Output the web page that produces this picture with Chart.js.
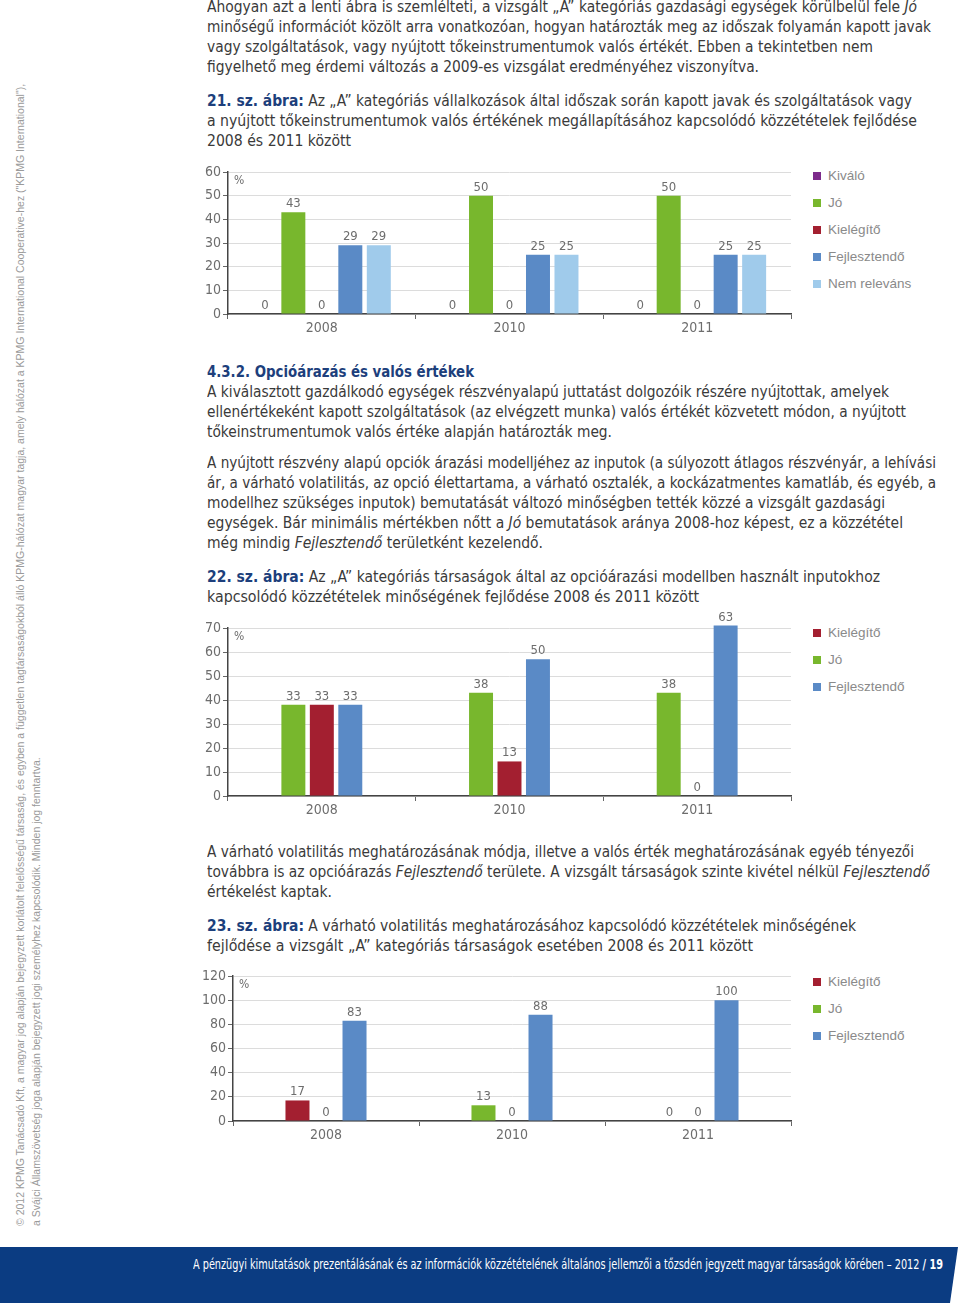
<!DOCTYPE html>
<html><head><meta charset="utf-8">
<script src="https://cdn.jsdelivr.net/npm/chart.js@4.4.1/dist/chart.umd.min.js"></script>
<style>
html,body{margin:0;padding:0;background:#fff;}
body{width:960px;height:1303px;position:relative;overflow:hidden;font-family:"DejaVu Sans Condensed","DejaVu Sans",sans-serif;}
.t{position:absolute;left:207px;font-size:16px;line-height:20px;color:#3a3a3a;white-space:nowrap;}
.t div{height:20px;width:max-content;transform-origin:0 0;}
.cap b{color:#1d3f7c;}
.h{color:#1d3f7c;font-weight:bold;}
canvas{position:absolute;}
.lg{position:absolute;left:813px;font-family:"Liberation Sans","Arial",sans-serif;font-size:13.5px;color:#8a8a8a;}
.lg div{position:absolute;left:0;white-space:nowrap;height:16px;line-height:16px;}
.lg span{display:inline-block;width:8px;height:8px;margin-right:7px;vertical-align:0px;}
.side{position:absolute;left:12px;top:1226px;transform-origin:0 0;transform:rotate(-90deg);font-family:"Liberation Sans","Arial",sans-serif;font-size:10.5px;line-height:16px;color:#9a9a9a;white-space:nowrap;}
.foot{position:absolute;left:0;top:1247px;width:960px;height:56px;background:#0b3c82;clip-path:polygon(0 0,958px 0,950px 56px,0 56px);}
.foot div{position:absolute;left:193px;top:9px;color:#fff;font-size:14px;white-space:nowrap;width:max-content;transform-origin:0 0;}
</style></head>
<body>
<div class="t" style="top:-3px">
<div data-r="917">Ahogyan azt a lenti ábra is szemlélteti, a vizsgált „A” kategóriás gazdasági egységek körülbelül fele <i>Jó</i></div>
<div data-r="931">minőségű információt közölt arra vonatkozóan, hogyan határozták meg az időszak folyamán kapott javak</div>
<div data-r="873">vagy szolgáltatások, vagy nyújtott tőkeinstrumentumok valós értékét. Ebben a tekintetben nem</div>
<div data-r="759">figyelhető meg érdemi változás a 2009-es vizsgálat eredményéhez viszonyítva.</div>
</div>
<div class="t cap" style="top:91px">
<div data-r="912"><b>21. sz. ábra:</b> Az „A” kategóriás vállalkozások által időszak során kapott javak és szolgáltatások vagy</div>
<div data-r="917">a nyújtott tőkeinstrumentumok valós értékének megállapításához kapcsolódó közzétételek fejlődése</div>
<div data-r="351">2008 és 2011 között</div>
</div>
<div class="t" style="top:362px">
<div class="h" data-r="474">4.3.2. Opcióárazás és valós értékek</div>
<div data-r="889">A kiválasztott gazdálkodó egységek részvényalapú juttatást dolgozóik részére nyújtottak, amelyek</div>
<div data-r="906">ellenértékeként kapott szolgáltatások (az elvégzett munka) valós értékét közvetett módon, a nyújtott</div>
<div data-r="612">tőkeinstrumentumok valós értéke alapján határozták meg.</div>
</div>
<div class="t" style="top:453px">
<div data-r="936">A nyújtott részvény alapú opciók árazási modelljéhez az inputok (a súlyozott átlagos részvényár, a lehívási</div>
<div data-r="936">ár, a várható volatilitás, az opció élettartama, a várható osztalék, a kockázatmentes kamatláb, és egyéb, a</div>
<div data-r="885">modellhez szükséges inputok) bemutatását változó minőségben tették közzé a vizsgált gazdasági</div>
<div data-r="903">egységek. Bár minimális mértékben nőtt a <i>Jó</i> bemutatások aránya 2008-hoz képest, ez a közzététel</div>
<div data-r="543">még mindig <i>Fejlesztendő</i> területként kezelendő.</div>
</div>
<div class="t cap" style="top:567px">
<div data-r="880"><b>22. sz. ábra:</b> Az „A” kategóriás társaságok által az opcióárazási modellben használt inputokhoz</div>
<div data-r="699">kapcsolódó közzétételek minőségének fejlődése 2008 és 2011 között</div>
</div>
<div class="t" style="top:842px">
<div data-r="914">A várható volatilitás meghatározásának módja, illetve a valós érték meghatározásának egyéb tényezői</div>
<div data-r="930">továbbra is az opcióárazás <i>Fejlesztendő</i> területe. A vizsgált társaságok szinte kivétel nélkül <i>Fejlesztendő</i></div>
<div data-r="332">értékelést kaptak.</div>
</div>
<div class="t cap" style="top:916px">
<div data-r="856"><b>23. sz. ábra:</b> A várható volatilitás meghatározásához kapcsolódó közzétételek minőségének</div>
<div data-r="753">fejlődése a vizsgált „A” kategóriás társaságok esetében 2008 és 2011 között</div>
</div>

<canvas id="c21" width="600" height="180" style="left:200px;top:160px"></canvas>
<canvas id="c22" width="600" height="222" style="left:200px;top:600px"></canvas>
<canvas id="c23" width="600" height="183" style="left:200px;top:964px"></canvas>

<div class="lg" id="lg21" style="top:168px"></div>
<div class="lg" id="lg22" style="top:625px"></div>
<div class="lg" id="lg23" style="top:974px"></div>

<div class="side">© 2012 KPMG Tanácsadó Kft, a magyar jog alapján bejegyzett korlátolt felelősségű társaság, és egyben a független tagtársaságokból álló KPMG-hálózat magyar tagja, amely hálózat a KPMG International Cooperative-hez ("KPMG International"),<br>a Svájci Államszövetség joga alapján bejegyzett jogi személyhez kapcsolódik. Minden jog fenntartva.</div>

<div class="foot"><div id="foottext" data-w="750">A pénzügyi kimutatások prezentálásának és az információk közzétételének általános jellemzői a tőzsdén jegyzett magyar társaságok körében – 2012 <b>/ 19</b></div></div>

<script>
// ---- data ----
const years = ['2008', '2010', '2011'];

// Chart 21
const c21Kivalo = [0, 0, 0];
const c21Jo = [43, 50, 50];
const c21Kielegito = [0, 0, 0];
const c21Fejlesztendo = [29, 25, 25];
const c21NemRelevans = [29, 25, 25];
const c21Ticks = [0, 10, 20, 30, 40, 50, 60];

// Chart 22 (bar heights as drawn in the original, and the printed labels)
const c22Jo = [38, 43, 43];
const c22Kielegito = [38, 14.4, 0];
const c22Fejlesztendo = [38, 57, 71];
const c22JoLabels = [33, 38, 38];
const c22KielegitoLabels = [33, 13, 0];
const c22FejlesztendoLabels = [33, 50, 63];
const c22Ticks = [0, 10, 20, 30, 40, 50, 60, 70];

// Chart 23
const c23Kielegito = [17, 0, 0];
const c23Jo = [0, 13, 0];
const c23Fejlesztendo = [83, 88, 100];
const c23SlotOrder = [
  ['Kielégítő', 'Jó', 'Fejlesztendő'],
  ['Jó', 'Kielégítő', 'Fejlesztendő'],
  ['Kielégítő', 'Jó', 'Fejlesztendő']
];
const c23Ticks = [0, 20, 40, 60, 80, 100, 120];

// ---- styles ----
const COL = {
  'Kiváló': '#7d2b8b',
  'Jó': '#78b72d',
  'Kielégítő': '#a31f30',
  'Fejlesztendő': '#5a8ac6',
  'Nem releváns': '#a0cbeb'
};
const COND = '"DejaVu Sans Condensed","DejaVu Sans",sans-serif';
Chart.defaults.font.family = COND;
Chart.defaults.color = '#6d6d6d';

const valueLabels = {
  id: 'valueLabels',
  afterDatasetsDraw(chart) {
    const ctx = chart.ctx;
    ctx.save();
    ctx.font = '13px ' + COND;
    ctx.fillStyle = '#6d6d6d';
    ctx.textAlign = 'center';
    ctx.textBaseline = 'alphabetic';
    chart.data.datasets.forEach((ds, i) => {
      const meta = chart.getDatasetMeta(i);
      meta.data.forEach((el, j) => {
        const txt = ds.printed ? ds.printed[j] : ds.data[j];
        ctx.fillText(String(txt), el.x, el.y - 5);
      });
    });
    ctx.textAlign = 'left';
    ctx.textBaseline = 'middle';
    ctx.font = '12px ' + COND;
    ctx.fillText('%', chart.chartArea.left + 6, chart.chartArea.top + 9);
    ctx.restore();
  }
};

function makeChart(id, datasets, ticks, axisW, catPct, topPad) {
  const max = ticks[ticks.length - 1];
  const step = ticks[1] - ticks[0];
  return new Chart(document.getElementById(id), {
    type: 'bar',
    data: { labels: years, datasets: datasets },
    plugins: [valueLabels],
    options: {
      responsive: false,
      animation: false,
      devicePixelRatio: 1,
      layout: { padding: { top: topPad, right: 9, left: 0, bottom: 0 } },
      plugins: { legend: { display: false }, tooltip: { enabled: false } },
      datasets: { bar: { categoryPercentage: catPct, barPercentage: 0.842, clip: false } },
      scales: {
        x: {
          afterFit(s) { s.height = 26; },
          grid: { drawOnChartArea: false, tickLength: 5, tickColor: '#666', offset: true },
          border: { color: '#444', width: 1.5 },
          ticks: { padding: 1, font: { size: 14 }, color: '#6d6d6d' }
        },
        y: {
          min: 0, max: max,
          afterFit(s) { s.width = axisW; },
          grid: { color: '#dcdcdc', tickLength: 5, tickColor: '#666' },
          border: { color: '#444', width: 1.5 },
          ticks: { stepSize: step, padding: 2, font: { size: 14 }, color: '#6d6d6d' }
        }
      }
    }
  });
}

// Chart 21
makeChart('c21', [
  { label: 'Kiváló', data: c21Kivalo, backgroundColor: COL['Kiváló'] },
  { label: 'Jó', data: c21Jo, backgroundColor: COL['Jó'] },
  { label: 'Kielégítő', data: c21Kielegito, backgroundColor: COL['Kielégítő'] },
  { label: 'Fejlesztendő', data: c21Fejlesztendo, backgroundColor: COL['Fejlesztendő'] },
  { label: 'Nem releváns', data: c21NemRelevans, backgroundColor: COL['Nem releváns'] }
], c21Ticks, 28, 0.759, 12);

// Chart 22
makeChart('c22', [
  { label: 'Jó', data: c22Jo, printed: c22JoLabels, backgroundColor: COL['Jó'] },
  { label: 'Kielégítő', data: c22Kielegito, printed: c22KielegitoLabels, backgroundColor: COL['Kielégítő'] },
  { label: 'Fejlesztendő', data: c22Fejlesztendo, printed: c22FejlesztendoLabels, backgroundColor: COL['Fejlesztendő'] }
], c22Ticks, 28, 0.455, 28);

// Chart 23 (slot order per year as in the original)
const c23Series = { 'Kielégítő': c23Kielegito, 'Jó': c23Jo, 'Fejlesztendő': c23Fejlesztendo };
const c23Datasets = [0, 1, 2].map(slot => ({
  label: c23SlotOrder[0][slot],
  data: years.map((y, j) => c23Series[c23SlotOrder[j][slot]][j]),
  backgroundColor: years.map((y, j) => COL[c23SlotOrder[j][slot]])
}));
makeChart('c23', c23Datasets, c23Ticks, 33, 0.46, 12);

// legends
function legend(id, names) {
  const el = document.getElementById(id);
  names.forEach((n, i) => {
    const d = document.createElement('div');
    d.style.top = (i * 27) + 'px';
    d.innerHTML = '<span style="background:' + COL[n] + '"></span>' + n;
    el.appendChild(d);
  });
}
legend('lg21', ['Kiváló', 'Jó', 'Kielégítő', 'Fejlesztendő', 'Nem releváns']);
legend('lg22', ['Kielégítő', 'Jó', 'Fejlesztendő']);
legend('lg23', ['Kielégítő', 'Jó', 'Fejlesztendő']);

// fit text lines to the widths of the original layout
document.querySelectorAll('[data-r]').forEach(el => {
  const w = el.getBoundingClientRect().width;
  const target = +el.dataset.r - 207;
  el.style.transform = 'scaleX(' + (target / w) + ')';
});
const ft = document.getElementById('foottext');
ft.style.transform = 'scaleX(' + (750 / ft.getBoundingClientRect().width) + ')';
</script>
</body></html>
